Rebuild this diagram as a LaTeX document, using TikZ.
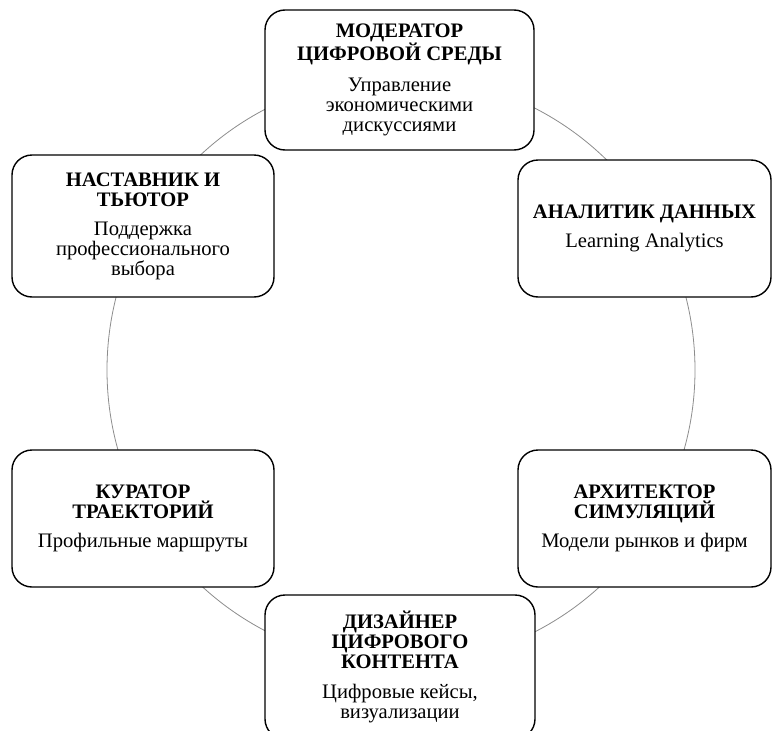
\documentclass[tikz,border=0pt]{standalone}
\usepackage{fontspec}
\setmainfont{Liberation Serif}
\begin{document}
\begin{tikzpicture}[x=1pt,y=-1pt,
  rolebox/.style={draw, line width=1.4pt, rounded corners=20pt, fill=white,
    align=center, inner sep=0pt, font=\fontsize{20.6}{20}\selectfont},
  ring/.style={draw=black!45, line width=0.8pt}]
\useasboundingbox (0,0) rectangle (772,731);
\clip (0,0) rectangle (772,731);
\coordinate (c) at (401,370);
\draw[ring] (c) circle[radius=294];
\node[rolebox, minimum width=269pt, minimum height=140pt] (mod) at (399.5,80)
  {\textbf{МОДЕРАТОР}\\\textbf{ЦИФРОВОЙ СРЕДЫ}\\[11pt]Управление\\экономическими\\дискуссиями};
\node[rolebox, minimum width=262pt, minimum height=142pt] (tut) at (143,226)
  {\textbf{НАСТАВНИК И}\\\textbf{ТЬЮТОР}\\[9pt]Поддержка\\профессионального\\выбора};
\node[rolebox, minimum width=253pt, minimum height=137pt] (an) at (644.5,228.5)
  {\textbf{АНАЛИТИК ДАННЫХ}\\[9pt]Learning Analytics};
\node[rolebox, minimum width=262pt, minimum height=137pt] (cur) at (143,518.5)
  {\textbf{КУРАТОР}\\\textbf{ТРАЕКТОРИЙ}\\[9pt]Профильные маршруты};
\node[rolebox, minimum width=253pt, minimum height=137pt] (arch) at (644.5,518.5)
  {\textbf{АРХИТЕКТОР}\\\textbf{СИМУЛЯЦИЙ}\\[9pt]Модели рынков и фирм};
\node[rolebox, minimum width=270pt, minimum height=144pt] (des) at (400,667)
  {\textbf{ДИЗАЙНЕР}\\\textbf{ЦИФРОВОГО}\\\textbf{КОНТЕНТА}\\[10pt]Цифровые кейсы,\\визуализации};
\end{tikzpicture}
\end{document}
